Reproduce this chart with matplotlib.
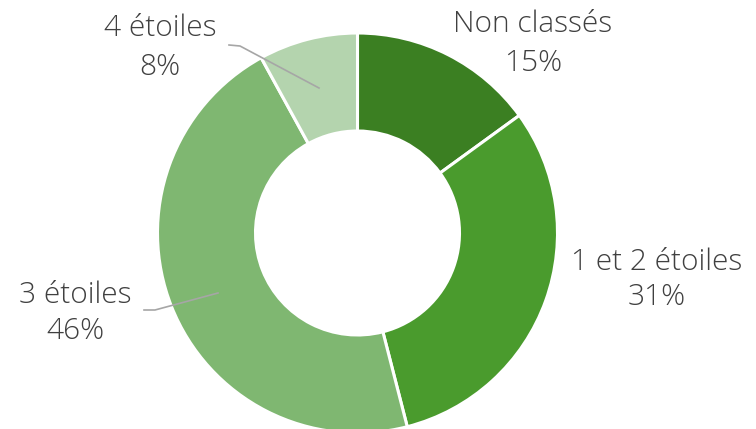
import matplotlib
matplotlib.use("Agg")
import matplotlib.pyplot as plt

categories = ["Non classés", "1 et 2 étoiles", "3 étoiles", "4 étoiles"]
shares = [15, 31, 46, 8]
colors = ["#3b7f22", "#4a9b2d", "#7fb771", "#b4d4ae"]

W, H = 756, 429
cx, cy, R = 357.5, 233, 200  # donut centre / radius in pixels


def to_data(px, py):
    return (px - cx) / R, (cy - py) / R


fig = plt.figure(figsize=(W / 100, H / 100), dpi=100)
ax = fig.add_axes([(cx - R) / W, (H - cy - R) / H, 2 * R / W, 2 * R / H])

wedges, _ = ax.pie(shares, colors=colors, startangle=90, counterclock=False,
                   radius=1.0,
                   wedgeprops=dict(width=0.49, edgecolor="white", linewidth=2.2))
for w in wedges:
    w.set_clip_on(False)
# pie() resets the limits, so set them afterwards
ax.set_xlim(-1, 1)
ax.set_ylim(-1, 1)
ax.axis("off")

# label placement (pixel coords of line centres)
label_pos = {
    "Non classés": (533, 24, 63),
    "1 et 2 étoiles": (657, 262, 297),
    "3 étoiles": (75, 295, 331),
    "4 étoiles": (160, 28, 67),
}
txt = dict(fontsize=21.5, color="#404040", family=["Open Sans", "DejaVu Sans"],
           fontweight="light", ha="center", va="center", clip_on=False)
for name, val in zip(categories, shares):
    px, py1, py2 = label_pos[name]
    x1, y1 = to_data(px, py1)
    x2, y2 = to_data(px, py2)
    ax.text(x1, y1, name, **txt)
    ax.text(x2, y2, f"{val}%", **txt)

# leader lines
leaders = [
    [(229, 45), (240, 46), (319, 88)],
    [(144, 310), (155, 310), (218, 293)],
]
for pts in leaders:
    xs, ys = zip(*[to_data(*p) for p in pts])
    ax.plot(xs, ys, color="#a6a6a6", linewidth=1.2, clip_on=False)

fig.savefig("out.png", dpi=100)
